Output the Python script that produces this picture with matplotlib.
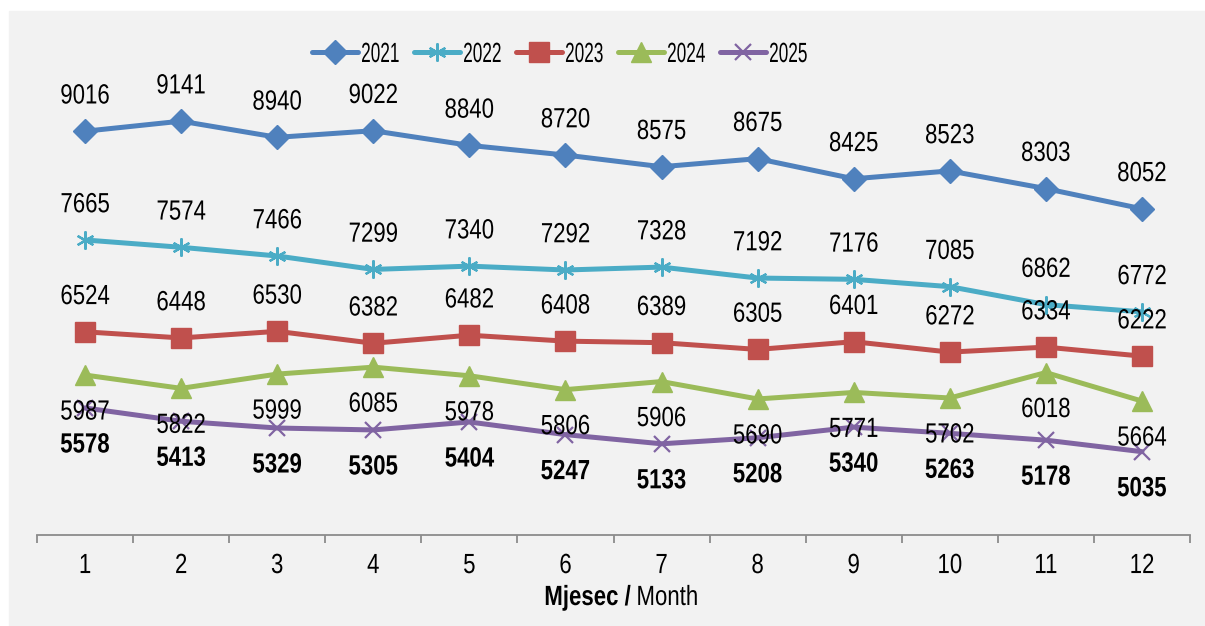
import matplotlib
matplotlib.use("Agg")
import matplotlib.pyplot as plt
from matplotlib.patches import Rectangle
from matplotlib.patheffects import AbstractPathEffect
from matplotlib.transforms import Affine2D

plt.rcParams['font.family'] = ['Liberation Sans', 'DejaVu Sans']

months = [1, 2, 3, 4, 5, 6, 7, 8, 9, 10, 11, 12]
years = ["2021", "2022", "2023", "2024", "2025"]
v2021 = [9016, 9141, 8940, 9022, 8840, 8720, 8575, 8675, 8425, 8523, 8303, 8052]
v2022 = [7665, 7574, 7466, 7299, 7340, 7292, 7328, 7192, 7176, 7085, 6862, 6772]
v2023 = [6524, 6448, 6530, 6382, 6482, 6408, 6389, 6305, 6401, 6272, 6334, 6222]
v2024 = [5987, 5822, 5999, 6085, 5978, 5806, 5906, 5690, 5771, 5702, 6018, 5664]
v2025 = [5578, 5413, 5329, 5305, 5404, 5247, 5133, 5208, 5340, 5263, 5178, 5035]

series = [v2021, v2022, v2023, v2024, v2025]
colors = ['#4F81BD', '#4BACC6', '#C0504D', '#9BBB59', '#8064A2']
markers = ['D', (6, 2, 0), 's', '^', 'x']
msizes = [12, 13, 14, 14, 12]
# label offset in points (above / below), bold for last year
offsets = [25, 25, 25, -27, -27]
bolds = ['normal', 'normal', 'normal', 'normal', 'bold']


class Squeeze(AbstractPathEffect):
    """draw text narrower (no condensed font installed)"""
    def __init__(self, sx, anchor='center'):
        super().__init__()
        self.sx = sx
        self.anchor = anchor

    def draw_path(self, renderer, gc, tpath, affine, rgbFace=None):
        ext = tpath.get_extents()
        if self.anchor == 'left':
            cx = ext.x0
        elif self.anchor == 'right':
            cx = ext.x1
        else:
            cx = (ext.x0 + ext.x1) / 2
        t = Affine2D().translate(-cx, 0).scale(self.sx, 1).translate(cx, 0) + affine
        renderer.draw_path(gc, tpath, t, rgbFace)


fs = 20
sq = 0.8
fig = plt.figure(figsize=(12.05, 6.26), dpi=100)
fig.patch.set_facecolor('white')
fig.patches.append(Rectangle((9 / 1205, 0), 1, (626 - 11) / 626,
                             transform=fig.transFigure, color='#F2F2F2', zorder=-10))

ax = fig.add_axes([37 / 1205, 1 - 535 / 626, (1190 - 37) / 1205, (535 - 52) / 626])
ax.set_facecolor('none')

lines = []
for yr, vals, c, m, ms in zip(years, series, colors, markers, msizes):
    ln, = ax.plot(months, vals, color=c, lw=3.6, marker=m, markersize=ms,
                  markeredgewidth=1.6 if m in ('x', (6, 2, 0)) else 1,
                  markeredgecolor=c, markerfacecolor=c, label=yr,
                  solid_capstyle='round', solid_joinstyle='round')
    lines.append(ln)

for vals, off, bw in zip(series, offsets, bolds):
    for x, v in zip(months, vals):
        ax.annotate(str(v), (x, v), xytext=(0, off), textcoords='offset points',
                    ha='center', va='center', fontsize=fs, fontweight=bw,
                    color='black', zorder=10, path_effects=[Squeeze(sq)])

ax.set_xlim(0.5, 12.5)
ax.set_ylim(4000, 10000)
ax.set_yticks([])
for s in ['left', 'right', 'top']:
    ax.spines[s].set_visible(False)
ax.spines['bottom'].set_color('#8C8C8C')
ax.spines['bottom'].set_linewidth(1.3)

ax.set_xticks(months)
ax.set_xticklabels([str(m) for m in months], fontsize=fs, path_effects=[Squeeze(sq)])
ax.tick_params(axis='x', which='major', length=0, pad=13)
ax.set_xticks([m - 0.5 for m in months] + [12.5], minor=True)
ax.tick_params(axis='x', which='minor', length=6, width=1.3, color='#8C8C8C')

fig.text(631 / 1205, 1 - 598 / 626, "Mjesec /", ha='right', va='center',
         fontsize=fs, fontweight='bold', path_effects=[Squeeze(sq, 'right')])
fig.text(636 / 1205, 1 - 598 / 626, "Month", ha='left', va='center', fontsize=fs,
         path_effects=[Squeeze(sq, 'left')])

leg = fig.legend(handles=lines, loc='center left', bbox_to_anchor=(312 / 1205, 1 - 55 / 626),
                 ncol=5, frameon=False, fontsize=fs, handlelength=1.65,
                 handletextpad=0.1, columnspacing=-0.3, borderpad=0, borderaxespad=0)
for t in leg.get_texts():
    t.set_path_effects([Squeeze(0.62, 'left')])

fig.savefig('out.png', dpi=100, facecolor=fig.get_facecolor())
